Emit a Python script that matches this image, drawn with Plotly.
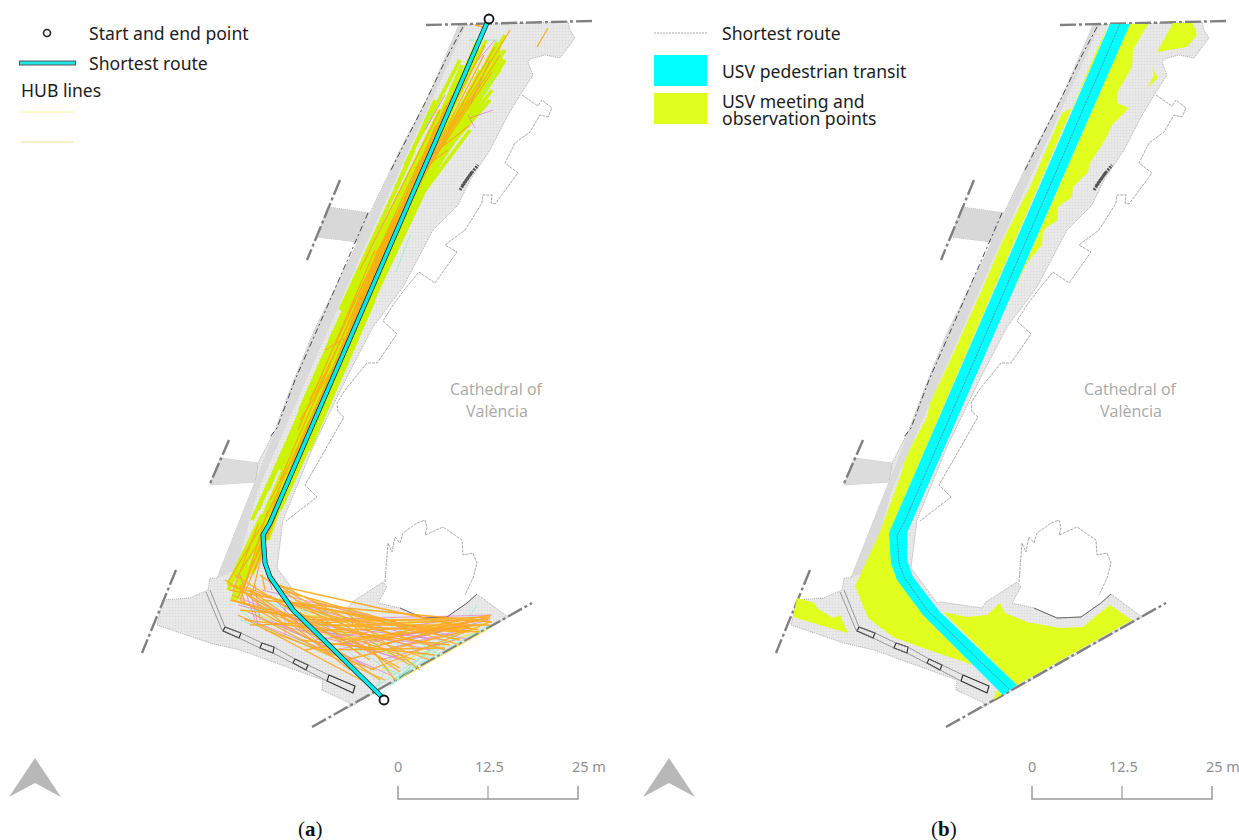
import plotly.graph_objects as go

# ---- base map outlines (page pixels of panel a) ----
PANEL_B_SHIFT = 634
plaza = [(459,25),(568,22),(570,30),(575,38),(560,58),(545,55),(530,59),(528,62),(533,75),(522,92),(507,117),(490,150),(470,180),(458,205),(433,230),(403,287),(373,327),(347,377),(313,447),(283,520),(277,568),(303,603),(307,602),(348,608),(352,602),(383,582),(387,587),(378,603),(400,608),(423,618),(447,617),(467,603),(477,594),(508,617),(348,708),(350,703),(322,690),(323,680),(240,650),(210,643),(157,625),(163,600),(190,598),(208,590),(210,578),(217,578),(255,482),(258,463),(220,458),(210,485),(255,482),(258,463),(275,430),(290,390),(313,333),(358,242),(317,237),(328,207),(370,213),(400,150),(428,97)]
side_plaza_upper = [(328,207),(370,213),(360,242),(317,237)]
side_plaza_lower = [(220,458),(258,463),(255,482),(210,485)]
west_strip = [(459,25),(466,25),(358,262),(284,430),(258,490),(236,570),(217,578),(255,482),(275,430),(313,333),(358,242),(400,150),(428,97)]
cathedral_outline = [(522,95),(538,106),(542,100),(552,108),(548,117),(540,115),(530,132),(515,143),(505,163),(518,173),(495,204),(491,203),(492,195),(483,195),(482,203),(465,230),(445,245),(457,252),(435,283),(419,272),(405,289),(393,305),(383,321),(397,334),(377,363),(367,363),(345,390),(337,403),(338,412),(344,417),(305,485),(317,497),(286,521)]
apse_outline = [(385,582),(388,543),(392,552),(395,537),(400,543),(403,533),(417,523),(425,520),(427,528),(425,535),(432,532),(443,527),(462,540),(463,555),(473,553),(477,563),(473,578),(465,595)]
curb_arc = [(400,608),(423,618),(447,617),(467,603),(477,594)]
boundary_top = [(426,25),(593,21)]
boundary_se = [(312,727),(532,603)]
boundary_sw = [(176,570),(142,653)]
boundary_w1 = [(229,440),(209,486)]
boundary_w2 = [(340,180),(307,260)]
kiosk_1 = [(225,627),(241,633),(239,638),(223,631),(225,627)]
kiosk_2 = [(262,643),(274,647),(273,653),(260,648),(262,643)]
kiosk_3 = [(295,659),(308,665),(306,670),(293,663),(295,659)]
kiosk_4 = [(329,675),(355,686),(353,693),(327,681),(329,675)]
rail_1 = [(210,590),(225,627),(241,633),(262,643),(274,647),(295,659),(308,665),(329,675)]
rail_2 = [(206,592),(222,630),(239,638),(260,648),(273,653),(293,663),(306,670),(327,681)]
west_wall_1 = [(463,27),(447,57),(425,103),(405,143),(390,172)]
west_wall_2 = [(368,213),(345,265),(317,330),(295,380),(277,428),(270,437)]
dark_patch_1 = [(460,190),(470,175),(478,165)]
dark_patch_2 = [(462,186),(472,172)]

# ---- shortest route ----
route = [(489,19),(486,25),(397,230),(270,523),(263,535),(265,563),(270,577),(293,610),(382,697),(384,700)]
route_ends = [(489,19),(384,700)]

# ---- HUB lines (x0, y0, x1, y1), read by eye from the bundles ----
hub_green = [(228,585,262,515),(235,592,270,505),(240,575,290,465),(245,565,300,440),(250,550,318,395),(232,600,270,500),(262,520,340,335),(258,510,330,345),(268,490,345,310),(275,470,360,280),(280,470,352,300),(285,450,372,260),(292,440,400,192),(300,440,410,200),(306,430,390,235),(310,400,420,170),(320,390,425,170),(325,372,405,198),(330,340,440,110),(335,350,446,120),(340,330,452,90),(345,320,450,110),(352,300,462,70),(358,295,465,80),(365,280,472,65),(372,260,480,50),(378,268,420,170),(385,250,448,105),(398,232,490,60),(403,222,497,42),(415,180,495,50),(425,190,500,45),(430,170,502,58),(440,150,505,35),(268,540,282,500),(262,530,300,450),(270,510,322,390),(440,125,478,40),(430,135,470,62),(412,175,462,72),(240,590,250,550),(252,575,272,520),
             (248,560,330,370),(255,548,340,345),(262,535,352,325),(258,545,372,285),(272,512,380,265),(282,485,392,235),(290,465,405,205),(298,450,418,175),(306,425,428,150),(314,410,440,130),(322,390,448,105),(332,365,460,80),(342,345,470,60),(312,400,402,205),(296,440,356,300),(286,462,346,320),(276,492,322,385),(268,508,310,412),(352,318,462,65),(362,295,478,45),(375,270,486,40),(388,240,492,65),(396,228,496,55),(407,215,505,60),(418,190,492,90),(428,172,500,65),(435,162,490,100),(444,140,500,70),(405,222,470,100),(412,205,478,85),
             (309,450,374,300),(330,400,395,250),(345,360,410,215),(360,320,430,170),(370,300,440,150),(380,285,458,120),(395,240,470,100),(410,210,480,70),(420,195,492,60),(432,170,500,50),(440,160,498,70),(450,130,505,50),(425,190,470,130),(280,510,330,400),(295,470,345,360),(285,495,300,460),
             (262,500,327,350),(300,410,370,250),(350,290,414,150),(395,190,435,100),(252,520,320,370),(340,310,400,180),(405,165,460,60),(228,590,258,530),(236,600,263,535)]
hub_yellow = [(240,610,410,660),(300,615,470,625),(320,640,480,628),(350,650,490,622),(380,670,480,630),(398,680,490,628),(400,655,470,635),(355,618,450,628),(280,600,380,650),(262,620,340,650)]
hub_orange = [(229,590,395,622),(232,600,390,640),(228,585,440,648),(240,610,470,632),(245,620,450,645),(250,625,490,617),(262,600,492,622),(275,585,478,630),(290,610,430,660),(300,605,388,620),(310,620,485,620),(320,630,470,628),(260,575,400,672),(270,580,410,665),(250,590,380,680),(235,575,370,660),(240,600,355,665),(285,600,420,650),(330,610,460,640),(345,612,420,670),(360,625,445,650),(300,625,490,625),(340,640,480,625),(350,620,395,680),(240,585,345,625),(255,615,330,655),(225,580,320,640),(265,630,375,670),(305,650,490,615),(310,600,460,645),(280,590,440,635),(295,600,410,640),(330,625,465,632),(370,640,488,619),(228,582,265,520),(236,578,268,528),(244,588,280,490),(255,560,310,420),(265,520,350,330),(280,480,395,215),(298,430,375,250),(315,395,430,150),(335,345,420,160),(348,315,468,70),(360,270,440,110),(375,255,495,47),(392,225,510,30),(405,205,473,55),(420,170,448,150),(415,168,470,125),(300,420,332,370),(325,350,345,338),(238,598,262,545),(475,25,487,28),(537,47,548,28),
              (238,615,365,682),(248,590,350,670),(260,625,385,680),(275,600,400,668),(285,615,415,660),(300,640,435,655),(320,650,445,648),(345,660,470,630),(370,670,490,622),(380,645,460,625),(400,625,480,632),(420,630,490,618),(350,625,470,620),(260,610,345,640),(280,585,360,625),(300,612,330,650),(230,600,300,620),(235,585,285,625),(245,605,240,585),(265,590,262,575),
              (246,590,300,455),(255,570,320,400),(262,548,336,360),(270,525,342,350),(278,505,365,290),(288,475,372,275),(296,455,388,240),(304,435,398,220),(312,420,412,190),(322,395,425,160),(330,375,415,185),(340,350,436,125),(350,325,446,105),(358,300,452,95),(368,280,460,80),(378,260,484,55),(390,240,478,75),(400,210,500,55),(410,195,492,72),(420,175,480,85),(430,150,485,45),(240,600,268,510),(252,595,275,500),(233,590,258,525),(270,500,300,445),(310,400,322,375)]
hub_magenta = [(232,595,400,660),(238,605,430,650),(248,612,390,675),(262,590,470,640),(280,600,430,640),(295,620,492,615),(315,640,450,620),(335,650,485,618),(270,620,365,665),(240,575,255,620),(265,565,272,590),(285,605,285,635),(250,590,258,625),(360,630,445,640),(390,648,470,628),(470,118,493,110),(475,128,468,115),(470,105,490,60),(478,60,495,40),(425,130,445,95),
               (245,618,370,668),(255,600,375,655),(280,625,405,660),(300,630,440,645),(340,645,470,625),(360,650,490,620),(380,660,455,640),(410,640,478,620),(255,585,260,620),(270,595,320,645),(290,600,300,630),(320,620,360,655)]
hub_mint = [(240,620,350,660),(255,610,345,628),(320,608,390,655),(360,612,415,668),(390,625,440,655),(410,620,375,690),(450,632,395,680),(440,640,380,695),(470,625,392,685),(477,605,465,623),(395,678,490,625),(370,690,430,652),(240,610,262,628),(300,625,350,635),(425,128,432,112),(495,74,482,95),(470,40,498,40),(410,235,396,272),(350,328,360,300),
            (245,590,280,620),(260,600,290,610),(320,620,375,680),(345,640,395,675),(370,625,380,650),(400,640,430,660),(420,625,455,640),(380,665,400,675),(460,630,410,665),(480,620,430,650),(300,610,350,620),(355,615,400,625),(235,600,300,640)]

# ---- panel b zones (page pixels) ----
transit_zone = [(1110,24),(889,533),(891,563),(897,580),(923,615),(1003,695),(1017,685),(940,612),(913,577),(907,560),(907,533),(1130,24)]
meeting_west = [(1108,24),(1096,57),(1077,97),(1073,107),(1062,113),(1040,163),(1030,187),(1023,200),(1010,227),(1003,240),(983,287),(948,365),(930,403),(927,417),(913,443),(905,460),(900,477),(880,532),(855,586),(868,618),(893,637),(920,647),(973,665),(1003,695),(923,615),(897,580),(891,563),(889,533)]
meeting_east = [(1130,24),(1148,24),(1133,50),(1132,67),(1117,93),(1117,103),(1129,108),(1112,125),(1105,140),(1090,163),(1088,172),(1073,187),(1072,197),(1058,207),(1058,220),(1047,227),(1043,232),(1042,245),(1027,263),(1012,295)]
meeting_ne = [(1173,23),(1193,23),(1197,35),(1187,47),(1157,52),(1165,37)]
meeting_kerb = [(1152,67),(1158,78),(1147,88),(1154,75)]
meeting_south = [(943,612),(967,617),(987,615),(1000,603),(1005,613),(1027,622),(1060,628),(1083,627),(1097,615),(1110,605),(1132,620),(1017,685)]
meeting_wedge = [(997,690),(1002,695),(993,700)]
meeting_plaza = [(797,598),(815,603),(817,608),(833,618),(840,615),(848,633),(830,628),(793,617)]
route_center = [(1120,24),(1031,230),(904,523),(897,535),(899,563),(904,577),(927,610),(1010,690)]

# ---- legend and labels ----
legend_a = ["Start and end point", "Shortest route", "HUB lines"]
legend_b = ["Shortest route", "USV pedestrian transit", "USV meeting and", "observation points"]
scale_labels = ["0", "12.5", "25 m"]
panel_labels = ["(<b>a</b>)", "(<b>b</b>)"]
place_label = ["Cathedral of", "València"]

LEG = "#1c1c1c"
fig = go.Figure()

def xy(points, dx=0):
    return [p[0] + dx for p in points], [p[1] for p in points]

def line(points, color, width=1, dash=None, dx=0, opacity=1):
    x, y = xy(points, dx)
    fig.add_trace(go.Scatter(x=x, y=y, mode="lines", opacity=opacity, hoverinfo="skip",
                             line=dict(color=color, width=width, dash=dash)))

def poly(points, color, dx=0):
    x, y = xy(points + points[:1], dx)
    fig.add_trace(go.Scatter(x=x, y=y, mode="lines", fill="toself", fillcolor=color, hoverinfo="skip",
                             line=dict(color=color, width=0)))

def hub(segs, color, width, opacity):
    x, y = [], []
    for s in segs:
        x += [s[0], s[2], None]
        y += [s[1], s[3], None]
    fig.add_trace(go.Scatter(x=x, y=y, mode="lines", opacity=opacity, hoverinfo="skip",
                             line=dict(color=color, width=width)))

def base_map(dx):
    x, y = xy(plaza + plaza[:1], dx)
    fig.add_trace(go.Scatter(x=x, y=y, mode="lines", fill="toself", hoverinfo="skip",
                             fillpattern=dict(shape=".", size=3, solidity=0.25, fgcolor="#cfcfcf", bgcolor="#e9e9e9"),
                             line=dict(color="#9a9a9a", width=0.8, dash="1px,1px")))
    poly(west_strip, "#dadada", dx)
    poly(side_plaza_upper, "#d8d8d8", dx)
    poly(side_plaza_lower, "#dcdcdc", dx)
    for o in (cathedral_outline, apse_outline):
        line(o, "#929292", 0.8, "3px,1px", dx=dx)
    line(curb_arc, "#666666", 1.0, dx=dx)
    for k in (kiosk_1, kiosk_2, kiosk_3, kiosk_4):
        line(k, "#2a2a2a", 1.1, dx=dx)
    for r in (rail_1, rail_2):
        line(r, "#777777", 0.7, dx=dx)
    for w in (west_wall_1, west_wall_2):
        line(w, "#3a3a3a", 0.9, "6px,3px,2px,3px", dx=dx)
    for d in (dark_patch_1, dark_patch_2):
        line(d, "#555555", 3, "2px,1px", dx=dx)
    for b in (boundary_top, boundary_se, boundary_sw, boundary_w1, boundary_w2):
        line(b, "#808080", 2.4, "16px,3px,3px,3px", dx=dx)

# panel a
base_map(0)
hub(hub_green, "#ccf400", 3.6, 1)
hub(hub_yellow, "#e8e840", 1.0, 0.9)
hub(hub_mint, "#8ff0c8", 0.9, 0.9)
hub(hub_magenta, "#e860c0", 0.8, 0.75)
hub(hub_orange, "#ffa818", 1.3, 0.9)
line(route, "#111111", 5.0)
line(route, "#00e8e8", 3.6)
rx, ry = xy(route_ends)
fig.add_trace(go.Scatter(x=rx, y=ry, mode="markers", hoverinfo="skip",
                         marker=dict(size=9, color="white", line=dict(color="#111111", width=1.8))))

# panel b
base_map(PANEL_B_SHIFT)
for zone in (meeting_west, meeting_east, meeting_ne, meeting_kerb, meeting_south, meeting_wedge, meeting_plaza):
    poly(zone, "#e0ff1e")
poly(transit_zone, "#00ffff")
line(route_center, "#707a80", 0.8, "2px,1px")

# legend a
fig.add_trace(go.Scatter(x=[47], y=[33], mode="markers", hoverinfo="skip",
                         marker=dict(size=7, color="white", line=dict(color="#222222", width=1.6))))
line([(19,63),(76,63)], "#555555", 5)
line([(20,63),(75,63)], "#22e6e6", 3)
line([(21,112),(74,112)], "#f4f08c", 0.9)
line([(21,142),(74,142)], "#f6d77a", 0.9)

# legend b
line([(654,33),(707,33)], "#9a9a9a", 0.9, "2px,1px")
fig.add_shape(type="rect", x0=654, x1=707, y0=55, y1=86, fillcolor="#00ffff", line_width=0)
fig.add_shape(type="rect", x0=654, x1=707, y0=93, y1=124, fillcolor="#e0ff1e", line_width=0)

def text(x, y, s, size=17.6, color=LEG, anchor="left", family="Noto Sans"):
    fig.add_annotation(x=x, y=y, text=s, showarrow=False, xanchor=anchor, yanchor="middle", borderpad=0,
                       font=dict(family=family, size=size, color=color))

for s, ty, tx in zip(legend_a, (33, 63, 90), (88, 88, 20)):
    text(tx, ty, s)
for s, ty in zip(legend_b, (33, 71, 101, 118)):
    text(721, ty, s)

for dx, lab, lx in zip((0, PANEL_B_SHIFT), panel_labels, (310, 944)):
    # north arrow
    ax, ay = xy([(35,758),(61,797),(35,783),(9,797)], dx)
    fig.add_trace(go.Scatter(x=ax+ax[:1], y=ay+ay[:1], mode="lines", fill="toself", fillcolor="#b8b8b8",
                             hoverinfo="skip", line=dict(color="#b8b8b8", width=0)))
    # scale bar
    line([(398,786),(398,799),(578,799),(578,786)], "#9a9a9a", 1.5, dx=dx)
    line([(488,786),(488,799)], "#9a9a9a", 1.2, dx=dx)
    for s, sx in zip(scale_labels, (398, 489, 589)):
        text(sx + dx, 766, s, 14.5, "#8f8f8f", "center")
    # place label
    text(497 + dx, 389, place_label[0], 16, "#a8a8a8", "center", "Open Sans")
    text(497 + dx, 411, place_label[1], 16, "#a8a8a8", "center", "Open Sans")
    text(lx, 829, lab, 21, "#111111", "center", "Liberation Serif")

fig.update_layout(width=1239, height=840, margin=dict(l=0, r=0, t=0, b=0), showlegend=False,
                  plot_bgcolor="white", paper_bgcolor="white",
                  xaxis=dict(range=[0, 1239], visible=False, fixedrange=True),
                  yaxis=dict(range=[840, 0], visible=False, fixedrange=True))
fig.write_html("out.html", config={"displayModeBar": False}, post_script="document.body.style.margin='0';")
